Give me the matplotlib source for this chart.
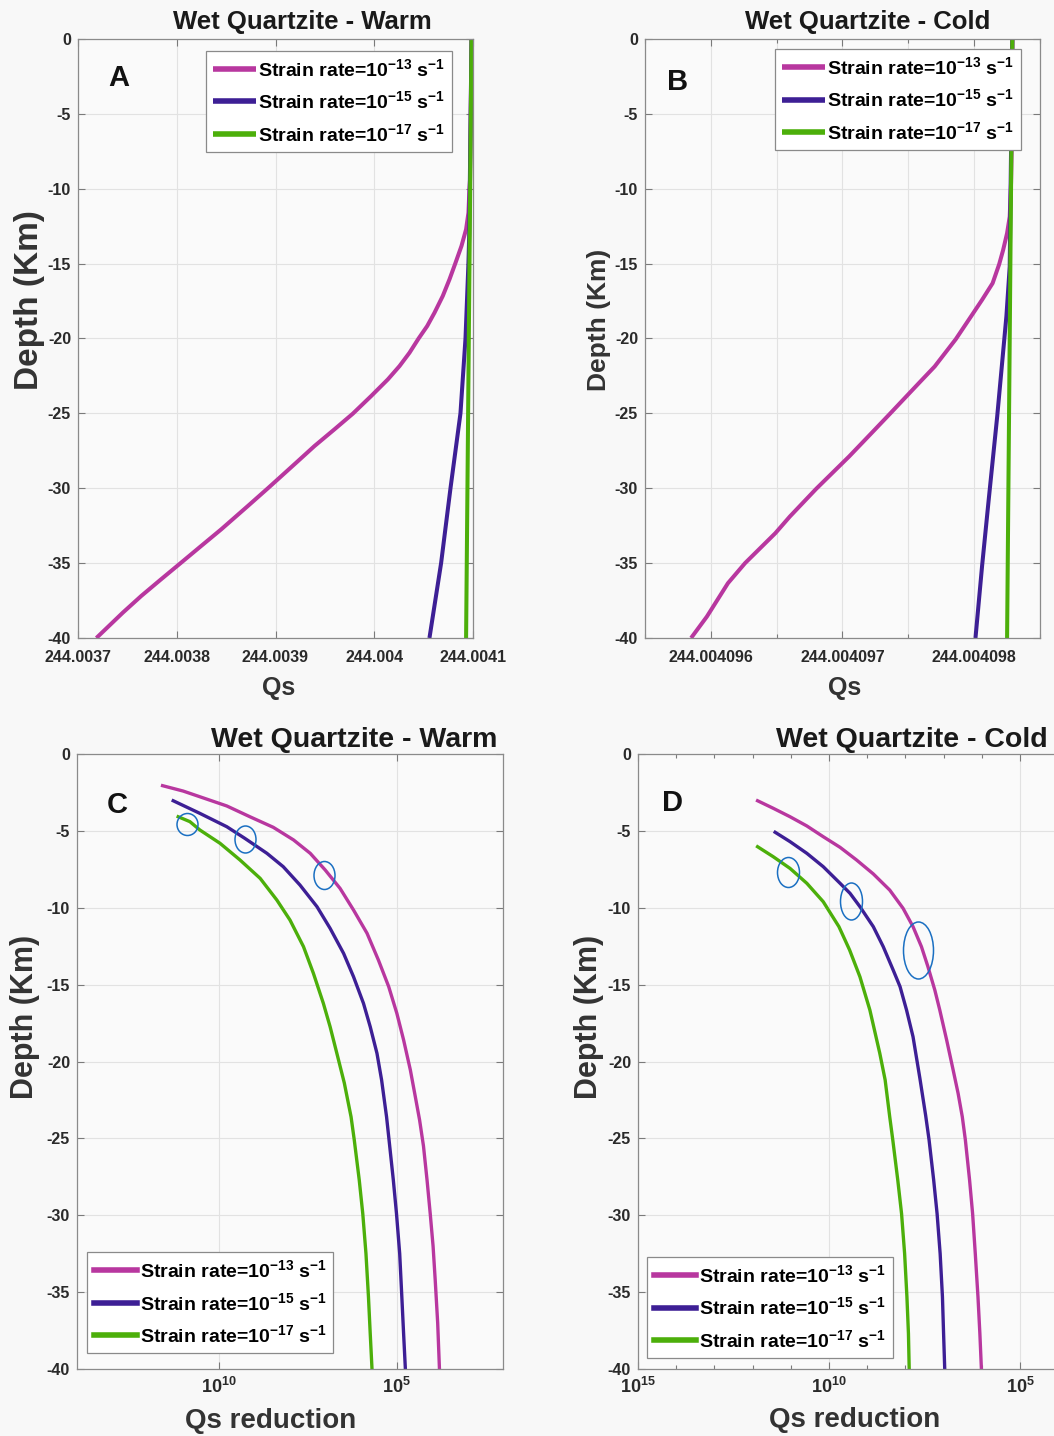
import numpy as np
import matplotlib
matplotlib.use('Agg')
from matplotlib import pyplot as plt
from matplotlib.path import Path
from matplotlib.transforms import Affine2D
from matplotlib.ticker import FixedLocator, NullLocator, NullFormatter, LogFormatterMathtext

plt.rcParams['font.family'] = ['Liberation Sans', 'DejaVu Sans']
plt.rcParams['font.weight'] = 'bold'
plt.rcParams['mathtext.default'] = 'regular'
plt.rcParams['axes.unicode_minus'] = False

# ---------------- data ----------------
labels = ['Strain rate=10$^{-13}$ s$^{-1}$',
          'Strain rate=10$^{-15}$ s$^{-1}$',
          'Strain rate=10$^{-17}$ s$^{-1}$']
colors = ['#b8379f', '#3d1f95', '#4caf0a']

depth_ticks = [0, -5, -10, -15, -20, -25, -30, -35, -40]

# A : Wet Quartzite - Warm, Qs
a_xticks = [244.0037, 244.0038, 244.0039, 244.004, 244.0041]
a_xticklabels = ['244.0037', '244.0038', '244.0039', '244.004', '244.0041']
a13_depth = [0, -5, -9.4, -10, -11.6, -12.71, -13.83, -15.0, -16.05, -17.16, -18.28, -19.17, -20.01,
             -20.95, -21.84, -22.73, -23.84, -25.02, -26.06, -27.18, -28.29, -29.4, -30.0, -31.18,
             -32.74, -33.85, -34.96, -36.07, -37.19, -38.3, -40]
a13_qs = [244.0040985, 244.0040977, 244.004097, 244.0040964, 244.0040954, 244.004093, 244.0040883,
          244.004082, 244.0040762, 244.0040694, 244.004061, 244.0040536, 244.0040448, 244.0040357,
          244.0040256, 244.0040138, 244.0039969, 244.0039783, 244.0039598, 244.0039395, 244.003921,
          244.0039024, 244.0038923, 244.0038721, 244.0038451, 244.0038248, 244.0038046, 244.0037843,
          244.0037641, 244.0037455, 244.0037186]
a15_depth = [0, -13, -14.94, -20, -25, -30, -35, -40]
a15_qs = [244.0040985, 244.0040962, 244.0040954, 244.0040924, 244.0040873, 244.0040772, 244.0040677, 244.0040559]
a17_depth = [0, -40]
a17_qs = [244.0040985, 244.004093]

# B : Wet Quartzite - Cold, Qs
b_xticks = [244.004096, 244.004097, 244.004098]
b_xminor = [244.0040955, 244.0040965, 244.0040975, 244.0040985]
b_xticklabels = ['244.004096', '244.004097', '244.004098']
b13_depth = [0, -5, -9.63, -11.86, -12.97, -14.09, -15.04, -16.31, -17.42, -18.54, -20.05, -21.87, -22.98,
             -25.03, -26.32, -27.88, -30.04, -31.89, -33.0, -35.0, -36.34, -38.57, -40]
b13_qs = [244.00409829, 244.00409829, 244.00409828, 244.00409827, 244.00409825, 244.00409822, 244.00409819,
          244.00409814, 244.00409806, 244.004097975, 244.00409786, 244.00409770, 244.00409758, 244.00409736,
          244.00409722, 244.00409705, 244.00409680, 244.00409660, 244.00409649, 244.00409626, 244.00409613,
          244.00409597, 244.00409585]
b15_depth = [0, -15.2, -18.5, -25.2, -30.8, -35.2, -40]
b15_qs = [244.00409829, 244.00409827, 244.004098245, 244.004098175, 244.00409811, 244.00409806, 244.00409801]
b17_depth = [0, -40]
b17_qs = [244.00409829, 244.00409825]

# C : Wet Quartzite - Warm, Qs reduction (log10 of the value)
c13_depth = [-2.06, -2.41, -2.78, -3.38, -4.08, -4.77, -5.59, -6.46, -7.54, -8.74, -10.15, -11.66, -13.4,
             -15.13, -16.87, -18.6, -20.55, -22.29, -23.8, -25.5, -27.7, -29.9, -32.0, -34.2, -37.0, -40]
c13_log = [11.59, 11.01, 10.54, 9.78, 9.13, 8.47, 7.90, 7.43, 7.01, 6.59, 6.21, 5.83, 5.51,
           5.22, 4.99, 4.80, 4.61, 4.47, 4.35, 4.24, 4.14, 4.05, 3.97, 3.91, 3.84, 3.79]
c15_depth = [-3.04, -3.86, -4.73, -5.49, -6.46, -7.33, -8.52, -9.93, -11.34, -12.97, -14.49, -16.22, -17.74,
             -19.47, -21.2, -23.6, -25.1, -27.7, -29.9, -32.5, -35.3, -37.7, -40]
c15_log = [11.29, 10.54, 9.78, 9.27, 8.65, 8.19, 7.72, 7.24, 6.87, 6.49, 6.21, 5.93, 5.74,
           5.55, 5.42, 5.28, 5.21, 5.09, 5.00, 4.91, 4.85, 4.80, 4.75]
c17_depth = [-4.08, -4.40, -4.94, -5.81, -6.89, -8.09, -9.5, -10.8, -12.53, -14.27, -16.22, -17.74, -19.47,
             -21.4, -23.6, -25.1, -27.7, -29.9, -32.5, -35.3, -37.7, -40]
c17_log = [11.15, 10.82, 10.54, 9.97, 9.41, 8.84, 8.37, 8.00, 7.62, 7.34, 7.06, 6.87, 6.68,
           6.47, 6.28, 6.19, 6.05, 5.95, 5.86, 5.79, 5.74, 5.69]
c_mark_log = [10.89, 9.27, 7.03]
c_mark_depth = [-4.55, -5.55, -7.87]

# D : Wet Quartzite - Cold, Qs reduction (log10 of the value)
d13_depth = [-3.04, -3.53, -4.08, -4.68, -5.38, -6.07, -6.89, -7.8, -8.85, -10.04, -11.23, -12.53, -13.83,
             -15.35, -16.65, -18.6, -20.55, -22.07, -23.6, -25.1, -27.7, -29.9, -32.5, -35.3, -37.7, -40]
d13_log = [11.87, 11.46, 11.02, 10.58, 10.15, 9.71, 9.28, 8.84, 8.41, 8.06, 7.80, 7.58, 7.41,
           7.23, 7.10, 6.92, 6.75, 6.62, 6.51, 6.43, 6.32, 6.24, 6.17, 6.10, 6.05, 6.01]
d15_depth = [-5.09, -5.7, -6.46, -7.33, -8.41, -9.06, -9.93, -11.23, -12.53, -14.05, -15.13, -16.65, -18.39,
             -21.1, -23.5, -25.1, -27.7, -29.9, -32.5, -35.3, -37.7, -40]
d15_log = [11.41, 11.02, 10.58, 10.15, 9.71, 9.45, 9.19, 8.84, 8.58, 8.32, 8.14, 7.97, 7.80,
           7.62, 7.47, 7.38, 7.26, 7.17, 7.09, 7.03, 7.00, 6.97]
d17_depth = [-6.03, -6.68, -7.44, -8.41, -9.61, -11.23, -12.75, -14.49, -16.65, -19.47, -21.2, -23.6,
             -25.1, -27.7, -29.9, -32.5, -35.3, -37.7, -40]
d17_log = [11.87, 11.46, 11.02, 10.58, 10.15, 9.74, 9.46, 9.19, 8.93, 8.67, 8.53, 8.41,
           8.33, 8.20, 8.10, 8.02, 7.96, 7.92, 7.90]
d_mark_log = [11.08, 9.43, 7.68]
d_mark_depth = [-7.69, -9.56, -12.75]

# ---------------- figure ----------------
W, H = 1054, 1436
BG = '#f8f8f8'
fig = plt.figure(figsize=(W / 100, H / 100), dpi=100, facecolor=BG)


def box(l, t, r, b):
    return [l / W, 1 - b / H, (r - l) / W, (b - t) / H]


def style(ax):
    ax.set_facecolor('#fafafa')
    for s in ax.spines.values():
        s.set_color('#8a8a8a')
        s.set_linewidth(0.9)
    ax.set_ylim(-40, 0)
    ax.set_yticks(depth_ticks)
    ax.set_yticklabels([str(d) for d in depth_ticks])
    ax.tick_params(which='both', direction='in', top=True, right=True, colors='#7a7a7a',
                   labelcolor='#2a2a2a', width=0.8)
    ax.tick_params(which='major', length=5)
    ax.tick_params(which='minor', length=3)
    ax.tick_params(axis='y', labelsize=11.5, pad=5)
    ax.set_axisbelow(True)


def ellipse(w, h):
    return Path.unit_circle().transformed(Affine2D().scale(w, h))


axA = fig.add_axes(box(78, 39, 473, 638))
axB = fig.add_axes(box(645, 39, 1040, 638))
axC = fig.add_axes(box(77, 754, 503, 1369))
axD = fig.add_axes(box(638, 754, 1062, 1369))

for ax in (axA, axB, axC, axD):
    style(ax)

# A
for dep, q, c, lab in zip([a13_depth, a15_depth, a17_depth], [a13_qs, a15_qs, a17_qs], colors, labels):
    axA.plot(q, dep, color=c, lw=2.9, label=lab, solid_capstyle='butt')
axA.set_xlim(a_xticks[0], a_xticks[-1])
axA.set_xticks(a_xticks)
axA.set_xticklabels(a_xticklabels)
axA.tick_params(axis='x', labelsize=11.5, pad=9)
axA.grid(True, which='major', color='#e2e2e2', lw=0.8)

# B
for dep, q, c, lab in zip([b13_depth, b15_depth, b17_depth], [b13_qs, b15_qs, b17_qs], colors, labels):
    axB.plot(q, dep, color=c, lw=2.9, label=lab, solid_capstyle='butt')
axB.set_xlim(b_xminor[0], b_xminor[-1])
axB.set_xticks(b_xticks)
axB.set_xticklabels(b_xticklabels)
axB.xaxis.set_minor_locator(FixedLocator(b_xminor))
axB.tick_params(axis='x', labelsize=11.5, pad=9)
axB.grid(True, which='both', color='#e2e2e2', lw=0.8)

# C
for dep, lg, c, lab in zip([c13_depth, c15_depth, c17_depth], [c13_log, c15_log, c17_log], colors, labels):
    axC.plot(10.0 ** np.array(lg), dep, color=c, lw=2.4, label=lab)
for lg, d, (w, h) in zip(c_mark_log, c_mark_depth, [(21, 22), (21, 27), (21, 28)]):
    axC.plot([10.0 ** lg], [d], ls='none', marker=ellipse(w, h), ms=max(w, h) * 0.72,
             mfc='none', mec='#1a6fc2', mew=1.1)
axC.set_xscale('log')
axC.set_xlim(1e14, 1e2)
axC.xaxis.set_major_locator(FixedLocator([1e10, 1e5]))
axC.xaxis.set_major_formatter(LogFormatterMathtext())
axC.xaxis.set_minor_locator(NullLocator())
axC.tick_params(axis='x', labelsize=13, pad=6)
axC.grid(True, which='major', color='#e2e2e2', lw=0.8)

# D
for dep, lg, c, lab in zip([d13_depth, d15_depth, d17_depth], [d13_log, d15_log, d17_log], colors, labels):
    axD.plot(10.0 ** np.array(lg), dep, color=c, lw=2.4, label=lab)
for lg, d, (w, h) in zip(d_mark_log, d_mark_depth, [(22, 30), (22, 37), (30, 57)]):
    axD.plot([10.0 ** lg], [d], ls='none', marker=ellipse(w, h), ms=max(w, h) * 0.72,
             mfc='none', mec='#1a6fc2', mew=1.1)
axD.set_xscale('log')
axD.set_xlim(1e15, 10 ** 3.9)
axD.xaxis.set_major_locator(FixedLocator([1e15, 1e10, 1e5]))
axD.xaxis.set_major_formatter(LogFormatterMathtext())
axD.xaxis.set_minor_locator(FixedLocator([1e14, 1e13, 1e12, 1e11, 1e9, 1e8, 1e7, 1e6, 1e4]))
axD.xaxis.set_minor_formatter(NullFormatter())
axD.tick_params(axis='x', labelsize=13, pad=6)
axD.grid(True, which='major', color='#e2e2e2', lw=0.8)

# legends
legkw = dict(fontsize=14, handlelength=2.2, handletextpad=0.15, labelspacing=0.55,
             borderpad=0.35, borderaxespad=0, fancybox=False, edgecolor='#8a8a8a',
             facecolor='white', framealpha=1)
for ax, loc, anchor in [(axA, 'upper left', (0.324, 0.98)), (axB, 'upper left', (0.329, 0.983)),
                        (axC, 'lower left', (0.0235, 0.026)), (axD, 'lower left', (0.021, 0.018))]:
    leg = ax.legend(loc=loc, bbox_to_anchor=anchor, **legkw)
    leg.get_frame().set_linewidth(0.9)
    for ln in leg.get_lines():
        ln.set_linewidth(4)


# text
def ftext(x, y, s, size, **kw):
    fig.text(x / W, 1 - y / H, s, fontsize=size, fontweight='bold', ha='center', va='center',
             color=kw.pop('color', '#1a1a1a'), **kw)


ftext(302, 22, 'Wet Quartzite - Warm', 18.5)
ftext(868, 22, 'Wet Quartzite - Cold', 18.5)
ftext(354, 740, 'Wet Quartzite - Warm', 20.5)
ftext(912, 740, 'Wet Quartzite - Cold', 20.5)

ftext(30, 300, 'Depth (Km)', 24, rotation=90, color='#333333')
ftext(599, 320, 'Depth (Km)', 19, rotation=90, color='#333333')
ftext(25, 1017, 'Depth (Km)', 22, rotation=90, color='#333333')
ftext(589, 1017, 'Depth (Km)', 22, rotation=90, color='#333333')

ftext(279, 688, 'Qs', 18, color='#333333')
ftext(845, 688, 'Qs', 18, color='#333333')
ftext(271, 1421, 'Qs reduction', 20, color='#333333')
ftext(855, 1420, 'Qs reduction', 20, color='#333333')

ftext(119, 78, 'A', 21, color='#111111')
ftext(678, 82, 'B', 21, color='#111111')
ftext(117, 805, 'C', 21, color='#111111')
ftext(672, 803, 'D', 21, color='#111111')

fig.savefig('out.png', dpi=100, facecolor=BG)
